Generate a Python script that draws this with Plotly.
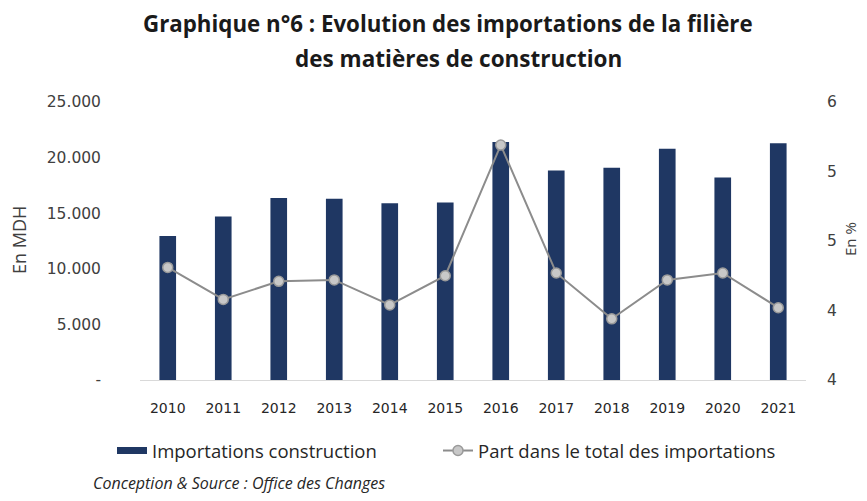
import plotly.graph_objects as go

years = ["2010", "2011", "2012", "2013", "2014", "2015", "2016", "2017", "2018", "2019", "2020", "2021"]
imports_mdh = [12950, 14700, 16370, 16300, 15900, 15970, 21400, 18840, 19080, 20800, 18200, 21300]
share_pct = [4.31, 4.08, 4.21, 4.22, 4.04, 4.25, 5.19, 4.27, 3.94, 4.22, 4.27, 4.02]

left_tickvals = [0, 5000, 10000, 15000, 20000, 25000]
left_ticktext = ["-", "5.000", "10.000", "15.000", "20.000", "25.000"]
right_tickvals = [3.5, 4.0, 4.5, 5.0, 5.5]
right_ticktext = ["4", "4", "5", "5", "6"]

TFONT = "Open Sans"
NFONT = "DejaVu Sans"
TXT = "#404040"
NAVY = "#1f3763"

fig = go.Figure()
fig.add_trace(go.Bar(
    x=years, y=imports_mdh, name="Importations construction", showlegend=False,
    marker=dict(color=NAVY, line=dict(width=0)), width=0.3,
))
# legend proxy for the bar series (wide flat swatch as in the reference)
fig.add_trace(go.Scatter(
    x=[None], y=[None], name="Importations construction", mode="lines",
    line=dict(color=NAVY, width=7), hoverinfo="skip", legend="legend",
))
fig.add_trace(go.Scatter(
    x=years, y=share_pct, name="Part dans le total des importations",
    yaxis="y2", mode="lines+markers", legend="legend2",
    line=dict(color="#8c8c8c", width=2),
    marker=dict(size=10, color="#c8c8c8", line=dict(color="#9a9a9a", width=1.5)),
))

# page body adds an 8px offset; positions below are given in reference pixels
OFF = 8
W, H = 867 - OFF, 501 - OFF
L, R, T, B = 140 - OFF, 61, 102 - OFF, 121
pw, ph = W - L - R, H - T - B

def px(x):
    return (x - OFF - L) / pw

def py(y):
    return (H - B - (y - OFF)) / ph

leg_font = dict(size=18.5, color="#262626", family=TFONT)

fig.update_layout(
    width=W, height=H,
    margin=dict(l=L, r=R, t=T, b=B, autoexpand=False),
    paper_bgcolor="white", plot_bgcolor="white",
    font=dict(family=TFONT, color=TXT, size=14),
    showlegend=True,
    xaxis=dict(
        type="category", range=[-0.5, len(years) - 0.5], autorange=False,
        showgrid=False, showline=True, linecolor="#d9d9d9", linewidth=1,
        ticks="", tickfont=dict(size=14, color="#262626", family=NFONT),
        ticklabelstandoff=15,
    ),
    yaxis=dict(
        range=[0, 25000], tickvals=left_tickvals, ticktext=left_ticktext,
        showgrid=False, zeroline=False, showline=False, ticks="",
        tickfont=dict(size=15.5, color=TXT, family=NFONT), ticklabelstandoff=38,
    ),
    yaxis2=dict(
        range=[3.5, 5.5], tickvals=right_tickvals, ticktext=right_ticktext,
        overlaying="y", side="right", showgrid=False, zeroline=False, showline=False,
        ticks="", tickfont=dict(size=15.5, color=TXT, family=NFONT), ticklabelstandoff=20,
    ),
    legend=dict(
        orientation="h", x=px(112), y=py(451), xanchor="left", yanchor="middle",
        font=leg_font, bgcolor="rgba(0,0,0,0)",
    ),
    legend2=dict(
        orientation="h", x=px(438), y=py(451), xanchor="left", yanchor="middle",
        font=leg_font, bgcolor="rgba(0,0,0,0)",
    ),
    annotations=[
        dict(text="<b>Graphique n°6 : Evolution des importations de la filière</b>",
             x=px(448), y=py(23), xref="paper", yref="paper", xanchor="center", yanchor="middle",
             showarrow=False, font=dict(size=22.3, color="#1a1a1a", family=TFONT)),
        dict(text="<b>des matières de construction</b>",
             x=px(458), y=py(58), xref="paper", yref="paper", xanchor="center", yanchor="middle",
             showarrow=False, font=dict(size=22.5, color="#1a1a1a", family=TFONT)),
        dict(text="En MDH", x=px(19), y=py(240), xref="paper", yref="paper",
             xanchor="center", yanchor="middle", textangle=-90, showarrow=False,
             font=dict(size=18, color=TXT, family=TFONT)),
        dict(text="En %", x=px(850), y=py(239), xref="paper", yref="paper",
             xanchor="center", yanchor="middle", textangle=-90, showarrow=False,
             font=dict(size=15, color=TXT, family=TFONT)),
        dict(text="<i>Conception & Source : Office des Changes</i>", x=px(91), y=py(483),
             xref="paper", yref="paper", xanchor="left", yanchor="middle", showarrow=False,
             font=dict(size=16, color="#262626", family=TFONT)),
    ],
)

fig.write_html("out.html")
